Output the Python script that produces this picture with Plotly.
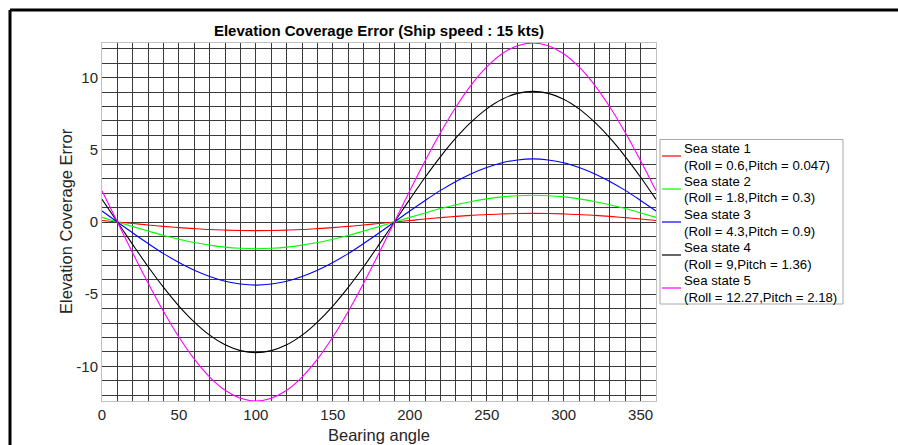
import plotly.graph_objects as go

bearing = list(range(0, 361, 10))

sea1 = [0.10, 0, -0.10, -0.21, -0.30, -0.39, -0.46, -0.52, -0.56, -0.59, -0.60, -0.59, -0.56, -0.52, -0.46, -0.39, -0.30, -0.21, -0.10, 0,
        0.10, 0.21, 0.30, 0.39, 0.46, 0.52, 0.56, 0.59, 0.60, 0.59, 0.56, 0.52, 0.46, 0.39, 0.30, 0.21, 0.10]
sea2 = [0.32, 0, -0.32, -0.63, -0.93, -1.19, -1.42, -1.60, -1.74, -1.82, -1.85, -1.82, -1.74, -1.60, -1.42, -1.19, -0.93, -0.63, -0.32, 0,
        0.32, 0.63, 0.93, 1.19, 1.42, 1.60, 1.74, 1.82, 1.85, 1.82, 1.74, 1.60, 1.42, 1.19, 0.93, 0.63, 0.32]
sea3 = [0.76, 0, -0.76, -1.49, -2.19, -2.81, -3.35, -3.78, -4.11, -4.30, -4.37, -4.30, -4.11, -3.78, -3.35, -2.81, -2.19, -1.49, -0.76, 0,
        0.76, 1.49, 2.19, 2.81, 3.35, 3.78, 4.11, 4.30, 4.37, 4.30, 4.11, 3.78, 3.35, 2.81, 2.19, 1.49, 0.76]
sea4 = [1.57, 0, -1.57, -3.10, -4.53, -5.82, -6.93, -7.84, -8.51, -8.91, -9.05, -8.91, -8.51, -7.84, -6.93, -5.82, -4.53, -3.10, -1.57, 0,
        1.57, 3.10, 4.53, 5.82, 6.93, 7.84, 8.51, 8.91, 9.05, 8.91, 8.51, 7.84, 6.93, 5.82, 4.53, 3.10, 1.57]
sea5 = [2.16, 0, -2.16, -4.24, -6.20, -7.97, -9.50, -10.74, -11.66, -12.21, -12.40, -12.21, -11.66, -10.74, -9.50, -7.97, -6.20, -4.24, -2.16, 0,
        2.16, 4.24, 6.20, 7.97, 9.50, 10.74, 11.66, 12.21, 12.40, 12.21, 11.66, 10.74, 9.50, 7.97, 6.20, 4.24, 2.16]

series = [sea1, sea2, sea3, sea4, sea5]
state_names = ["Sea state 1", "Sea state 2", "Sea state 3", "Sea state 4", "Sea state 5"]
state_params = [
    "(Roll = 0.6,Pitch = 0.047)",
    "(Roll = 1.8,Pitch = 0.3)",
    "(Roll = 4.3,Pitch = 0.9)",
    "(Roll = 9,Pitch = 1.36)",
    "(Roll = 12.27,Pitch = 2.18)",
]
colors = ["#ff0000", "#00ff00", "#0000ff", "#000000", "#ff00ff"]

x_ticks = [0, 50, 100, 150, 200, 250, 300, 350]
x_ticktext = ["0", "50", "100", "150", "200", "250", "300", "350"]
y_ticks = [-10, -5, 0, 5, 10]
y_ticktext = ["-10", "-5", "0", "5", "10"]

FONT = "Liberation Sans, Arial, sans-serif"
GRID = "#3a3a3a"

L, R, T, B = 102, 242, 43, 44
W, H = 898, 445
pw, ph = W - L - R, H - T - B


def px(xp):
    return (xp - L) / pw


def py(yp):
    return (H - B - yp) / ph


fig = go.Figure()
for ys, nm, pr, c in zip(series, state_names, state_params, colors):
    fig.add_trace(go.Scatter(x=bearing, y=ys, mode="lines", name=nm + " " + pr,
                             line=dict(color=c, width=1.1, shape="spline"),
                             showlegend=False))

fig.update_layout(
    width=W, height=H,
    margin=dict(l=L, r=R, t=T, b=B, autoexpand=False),
    paper_bgcolor="white", plot_bgcolor="white",
    font=dict(family=FONT, color="#262626", size=15),
    title=dict(text="<b>Elevation Coverage Error (Ship speed : 15 kts)</b>",
               x=0.5, xref="paper", xanchor="center",
               y=1 - 31 / H, yanchor="middle",
               font=dict(size=15, color="black", family=FONT)),
    xaxis=dict(range=[0, 360], tickvals=x_ticks, ticktext=x_ticktext,
               showgrid=True, gridcolor=GRID, gridwidth=1,
               minor=dict(dtick=10, tick0=0, showgrid=True, gridcolor=GRID, gridwidth=1),
               zeroline=False, showline=True, linecolor="#c0c0c0", mirror=True,
               ticks="", automargin=False, tickfont=dict(size=15, color="#262626")),
    yaxis=dict(range=[-12.4, 12.4], tickvals=y_ticks, ticktext=y_ticktext,
               showgrid=True, gridcolor=GRID, gridwidth=1,
               minor=dict(dtick=1, tick0=0, showgrid=True, gridcolor=GRID, gridwidth=1),
               zeroline=False, showline=True, linecolor="#c0c0c0", mirror=True,
               ticks="", automargin=False, tickfont=dict(size=15, color="#262626")),
    showlegend=False,
)

annotations = [
    dict(text="Bearing angle", xref="paper", yref="paper", x=0.5, y=py(435),
         xanchor="center", yanchor="middle", showarrow=False,
         font=dict(size=16.5, color="#262626", family=FONT)),
    dict(text="Elevation Coverage Error", xref="paper", yref="paper", x=px(66), y=py(221),
         xanchor="center", yanchor="middle", textangle=-90, showarrow=False,
         font=dict(size=16.5, color="#262626", family=FONT)),
]

shapes = []
# legend box
shapes.append(dict(type="rect", xref="paper", yref="paper",
                   x0=px(660), x1=px(843), y0=py(139.5), y1=py(304),
                   line=dict(color="#a8a8a8", width=1), fillcolor="white", layer="above"))
for i, (nm, pr, c) in enumerate(zip(state_names, state_params, colors)):
    y1 = 148.5 + 33 * i
    y2 = y1 + 16.5
    annotations.append(dict(text=nm, xref="paper", yref="paper", x=px(681.5), y=py(y1),
                            xanchor="left", yanchor="middle", showarrow=False,
                            font=dict(size=13.2, color="black", family=FONT)))
    annotations.append(dict(text=pr, xref="paper", yref="paper", x=px(681.5), y=py(y2),
                            xanchor="left", yanchor="middle", showarrow=False,
                            font=dict(size=13.2, color="black", family=FONT)))
    ys = y1 + 7.5
    shapes.append(dict(type="line", xref="paper", yref="paper",
                       x0=px(662), x1=px(681), y0=py(ys), y1=py(ys),
                       line=dict(color=c, width=1.2), layer="above"))

# figure frame (top and left edges)
shapes.append(dict(type="line", xref="paper", yref="paper",
                   x0=px(10), x1=px(W + 5), y0=py(10), y1=py(10),
                   line=dict(color="black", width=3)))
shapes.append(dict(type="line", xref="paper", yref="paper",
                   x0=px(10), x1=px(10), y0=py(10), y1=py(H + 5),
                   line=dict(color="black", width=3)))

fig.update_layout(annotations=annotations, shapes=shapes)

fig.write_html("out.html")
